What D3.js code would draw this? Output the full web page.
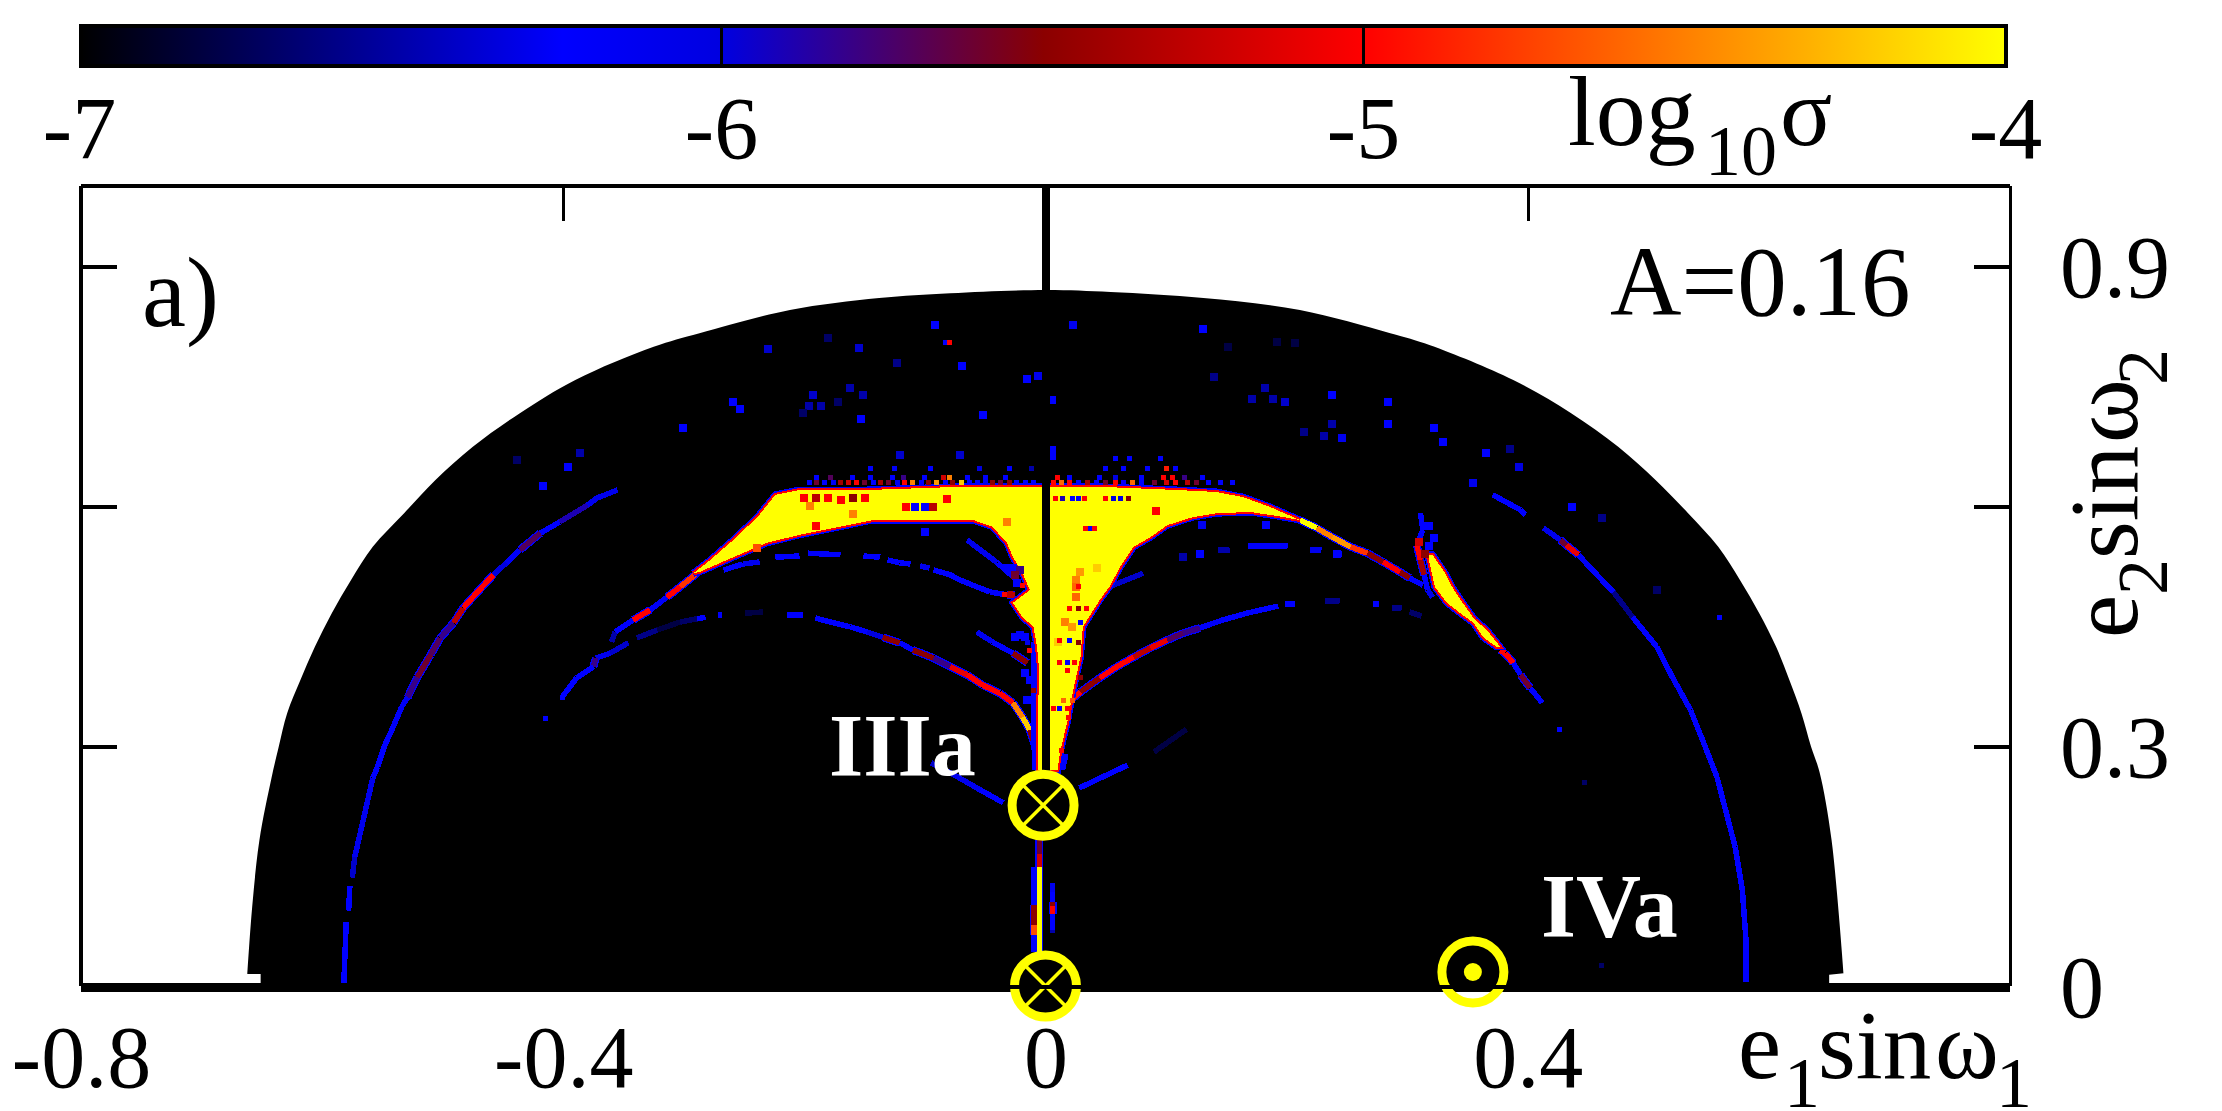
<!DOCTYPE html>
<html lang="en">

<head>
  <meta charset="utf-8">
  <title>log10 sigma map, A=0.16</title>
  <script src="https://cdn.jsdelivr.net/npm/d3@7"></script>
  <style>
    html, body { margin: 0; background: #fff; }
    svg { display: block; }
    text { font-family: "Liberation Serif", serif; fill: #000; }
    .axis path, .axis line { stroke: #000; shape-rendering: crispEdges; }
    .mark { shape-rendering: crispEdges; }
  </style>
</head>

<body>
  <div id="box"></div>
  <script>
    const width = 2222
    const height = 1111

    // colour bar
    const barTicks = [-7, -6, -5, -4]
    const barStops = [-7, -6.25, -6, -5.5, -5, -4]
    const barColors = ['#000000', '#0000ff', '#0000e0', '#8b0000', '#ff0000', '#ffff00']

    // axes
    const xTopTicks = [-0.4, 0, 0.4]
    const xLabels = [-0.8, -0.4, 0, 0.4]
    const yTicks = [0.3, 0.6, 0.9]
    const yLabels = [0, 0.3, 0.9]

    // outline of the mapped area (e1, e2)
    const heapE1 = [-0.651, -0.651, -0.662, -0.658, -0.652, -0.642, -0.636, -0.629, -0.618, -0.606, -0.592, -0.576, -0.558, -0.532, -0.506, -0.475, -0.436, -0.390, -0.325, -0.287, -0.212, -0.138, -0.079, 0, 0.054, 0.131, 0.211, 0.286, 0.319, 0.388, 0.436, 0.475, 0.506, 0.533, 0.558, 0.576, 0.592, 0.606, 0.617, 0.627, 0.635, 0.642, 0.652, 0.662, 0.650, 0.650]
    const heapE2 = [0, 0.015, 0.015, 0.099, 0.1825, 0.26, 0.299, 0.341, 0.3825, 0.424, 0.466, 0.5075, 0.549, 0.591, 0.6325, 0.674, 0.716, 0.7575, 0.799, 0.816, 0.845, 0.86, 0.866, 0.87, 0.8675, 0.86, 0.845, 0.816, 0.801, 0.7575, 0.716, 0.674, 0.6325, 0.591, 0.549, 0.5075, 0.466, 0.424, 0.3825, 0.341, 0.299, 0.2675, 0.1825, 0.016, 0.014, 0]

    // saturated regions
    const wingArea = [[-0.292, 0.516], [-0.278, 0.5325], [-0.259, 0.5575], [-0.239, 0.586], [-0.224, 0.614], [-0.204, 0.62], [-0.148, 0.62], [-0.071, 0.624], [0.045, 0.624], [0.109, 0.62], [0.142, 0.6175], [0.164, 0.611], [0.186, 0.599], [0.211, 0.5825], [0.192, 0.5875], [0.170, 0.5925], [0.142, 0.591], [0.122, 0.586], [0.101, 0.576], [0.087, 0.561], [0.073, 0.549], [0.062, 0.524], [0.053, 0.499], [0.045, 0.4825], [0.031, 0.449], [0.029, 0.411], [0.023, 0.37], [0.018, 0.329], [0.015, 0.311], [0.012, 0.291], [0.010, 0.27], [-0.006, 0.27], [-0.006, 0.3575], [-0.005, 0.391], [-0.007, 0.424], [-0.010, 0.449], [-0.019, 0.461], [-0.027, 0.479], [-0.013, 0.495], [-0.019, 0.516], [-0.027, 0.536], [-0.032, 0.554], [-0.044, 0.574], [-0.060, 0.5825], [-0.143, 0.5825], [-0.176, 0.5725], [-0.204, 0.564], [-0.231, 0.554], [-0.259, 0.536], [-0.287, 0.5175]]
    const streakArea = [[0.317, 0.539], [0.323, 0.499], [0.333, 0.479], [0.344, 0.466], [0.355, 0.454], [0.363, 0.436], [0.374, 0.424], [0.377, 0.424], [0.374, 0.43], [0.366, 0.445], [0.356, 0.458], [0.346, 0.479], [0.338, 0.497], [0.331, 0.517], [0.321, 0.539]]

    // ridges: e1, e2, log10 sigma (-7 leaves a gap)
    const outerLeft = [[-0.355, 0.62, -6.3], [-0.372, 0.61, -6.3], [-0.380, 0.601, -5.9], [-0.403, 0.58, -6.25], [-0.419, 0.566, -5.7], [-0.436, 0.545, -6.2], [-0.447, 0.529, -6.0], [-0.458, 0.514, -5.0], [-0.475, 0.486, -5.0], [-0.483, 0.4725, -5.3], [-0.491, 0.454, -5.8], [-0.502, 0.435, -5.7], [-0.510, 0.414, -5.6], [-0.521, 0.386, -5.8], [-0.529, 0.361, -6.2], [-0.534, 0.349, -6.2], [-0.541, 0.324, -6.25], [-0.548, 0.301, -6.25], [-0.554, 0.274, -6.25], [-0.558, 0.26, -6.3], [-0.564, 0.22, -6.3], [-0.571, 0.174, -6.3], [-0.573, 0.161, -6.4], [-0.575, 0.135, -7], [-0.577, 0.125, -6.25], [-0.578, 0.094, -7], [-0.580, 0.08, -6.25], [-0.582, 0.004, -6.25]]
    const outerRight = [[0.371, 0.614, -6.25], [0.394, 0.595, -6.25], [0.398, 0.589, -7], [0.413, 0.5725, -6.1], [0.427, 0.5575, -5.6], [0.432, 0.551, -5.1], [0.442, 0.539, -6.2], [0.452, 0.5225, -6.25], [0.471, 0.4925, -6.6], [0.487, 0.461, -6.25], [0.507, 0.424, -6.25], [0.520, 0.386, -6.2], [0.535, 0.345, -6.25], [0.545, 0.3075, -6.25], [0.557, 0.261, -6.25], [0.572, 0.174, -6.25], [0.578, 0.12, -6.25], [0.581, 0.0575, -6.25], [0.581, 0.005, -6.25]]
    const tailLeft = [[-0.289, 0.516, -4.8], [-0.303, 0.499, -5.0], [-0.314, 0.486, -6.2], [-0.328, 0.47, -5.0], [-0.342, 0.4575, -6.25], [-0.357, 0.4425, -6.5], [-0.36, 0.43, -7]]
    const tailLeftLow = [[-0.346, 0.429, -6.4], [-0.361, 0.416, -6.3], [-0.373, 0.41, -5.8], [-0.375, 0.399, -6.25], [-0.389, 0.385, -6.25], [-0.401, 0.361, -7]]
    const tailRight = [[0.211, 0.5825, -4], [0.225, 0.5725, -4.5], [0.238, 0.561, -4.4], [0.253, 0.549, -4.8], [0.267, 0.541, -5.5], [0.280, 0.53, -5.0], [0.294, 0.5175, -5.5], [0.302, 0.51, -6.25], [0.313, 0.501, -7]]
    const arcUpper = [[-0.267, 0.52, -6.25], [-0.251, 0.5275, -6.3], [-0.237, 0.53, -7], [-0.224, 0.536, -6.25], [-0.204, 0.5375, -7], [-0.197, 0.541, -6.2], [-0.170, 0.539, -7], [-0.151, 0.5375, -6.25], [-0.137, 0.536, -7], [-0.131, 0.5325, -6.25], [-0.121, 0.529, -6.25], [-0.112, 0.5275, -7], [-0.104, 0.525, -6.3], [-0.096, 0.5225, -7], [-0.093, 0.52, -6.25], [-0.079, 0.514, -6.25], [-0.071, 0.5075, -6.25], [-0.057, 0.499, -6.25], [-0.046, 0.4925, -6.25], [-0.032, 0.489, -5.3], [-0.025, 0.489, -5.3]]
    const arcLower = [[-0.339, 0.435, -6.6], [-0.322, 0.445, -6.8], [-0.303, 0.455, -6.7], [-0.289, 0.459, -6.25], [-0.282, 0.461, -7], [-0.272, 0.464, -6.25], [-0.268, 0.464, -7], [-0.249, 0.466, -6.8], [-0.234, 0.4675, -7], [-0.214, 0.464, -6.25], [-0.201, 0.464, -7], [-0.191, 0.46, -6.25], [-0.176, 0.454, -6.25], [-0.162, 0.449, -6.25], [-0.148, 0.4425, -6.0], [-0.135, 0.436, -5.5], [-0.121, 0.429, -6.25], [-0.110, 0.42, -5.5], [-0.093, 0.41, -5.8], [-0.079, 0.399, -5.1], [-0.065, 0.389, -5.0], [-0.052, 0.376, -5.0], [-0.038, 0.366, -5.0], [-0.027, 0.354, -4.5], [-0.019, 0.336, -4.2], [-0.013, 0.32, -5.5], [-0.009, 0.301, -5.5]]
    const arcInnerA = [[-0.057, 0.4425, -6.3], [-0.044, 0.43, -6.25], [-0.027, 0.416, -5.5], [-0.015, 0.404, -5.5]]
    const arcInnerB = [[-0.065, 0.5575, -6.3], [-0.040, 0.529, -6.25], [-0.024, 0.5075, -6.0]]
    const arcRight = [[0.017, 0.3525, -5.0], [0.029, 0.3675, -5.5], [0.045, 0.385, -5.0], [0.059, 0.399, -5.0], [0.073, 0.411, -5.3], [0.087, 0.4225, -5.1], [0.101, 0.4325, -5.7], [0.114, 0.441, -5.8], [0.128, 0.4475, -6.2], [0.147, 0.4575, -6.25], [0.167, 0.466, -6.25], [0.186, 0.4725, -6.25], [0.193, 0.475, -7], [0.199, 0.4775, -6.25], [0.207, 0.4775, -7], [0.232, 0.481, -6.6], [0.244, 0.481, -7], [0.272, 0.4775, -6.25], [0.277, 0.4775, -7], [0.287, 0.4725, -6.6], [0.296, 0.4725, -7], [0.302, 0.4675, -6.7], [0.312, 0.4625, -6.7]]
    const arcRightMid = [[0.053, 0.499, -6.4], [0.081, 0.516, -7], [0.143, 0.545, -6.5], [0.153, 0.545, -7], [0.168, 0.55, -6.2], [0.201, 0.55, -7], [0.219, 0.545, -6.1], [0.229, 0.545, -7], [0.239, 0.54, -6.25], [0.246, 0.54, -7]]
    const streakTail = [[0.377, 0.42, -5], [0.381, 0.416, -5], [0.388, 0.404, -6.25], [0.394, 0.389, -5.6], [0.402, 0.3725, -6.25], [0.412, 0.354, -6.25]]
    const streakHead = [[0.311, 0.591, -6.25], [0.313, 0.57, -6.25], [0.308, 0.551, -5.0], [0.311, 0.5325, -5.4], [0.314, 0.514, -6.25], [0.317, 0.495, -6.1], [0.321, 0.486, -6.1]]
    const stemLeft = [[-0.003, 0.6225, -6.25], [-0.040, 0.6225, -6.25]]
    const wingUnderA = [[-0.140, 0.5825, -6.25], [-0.06, 0.5825, -6.25]]
    const wingUnderB = [[0.145, 0.591, -6.25], [0.167, 0.591, -6.25]]
    const armLeft = [[-0.035, 0.229, -6.25], [-0.054, 0.245, -6.3], [-0.076, 0.264, -6.4], [-0.095, 0.279, -6.6]]
    const armRight = [[0.028, 0.2475, -6.25], [0.042, 0.2575, -6.25], [0.068, 0.276, -7], [0.09, 0.2925, -6.8], [0.117, 0.321, -6.8]]
    const flankLeft = [[-0.010, 0.43, -6.25], [-0.010, 0.35, -6.25], [-0.009, 0.27, -6.25]]
    const flankRight = [[0.017, 0.29, -6.25], [0.014, 0.27, -6.25]]
    const lowerStem = [[-0.005, 0.1825, -5.6], [-0.005, 0.165, -5.2], [-0.005, 0.149, -4], [-0.005, 0.0425, -5], [-0.005, 0.04, -5]]
    const lowerLeft = [[-0.0095, 0.149, -6.25], [-0.0095, 0.101, -5.5], [-0.0095, 0.076, -4.7], [-0.0095, 0.064, -6.25], [-0.0095, 0.0425, -6.25]]
    const lowerRight = [[0.006, 0.129, -6.3], [0.006, 0.118, -6.25], [0.006, 0.105, -5.5], [0.006, 0.1, -5], [0.006, 0.09, -6.25], [0.006, 0.07, -6.5], [0.006, 0.066, -6.5]]

    const ridges = [outerLeft, outerRight, tailLeft, tailLeftLow, tailRight, arcUpper, arcLower, arcInnerA, arcInnerB, arcRight, arcRightMid, streakTail, streakHead, stemLeft, wingUnderA, wingUnderB, armLeft, armRight, flankLeft, flankRight, lowerStem, lowerLeft, lowerRight]

    // isolated spots: e1, e2, log10 sigma
    const coarseCells = [[-0.259, 0.73, -6.25], [-0.253, 0.721, -6.25], [-0.193, 0.739, -6.4], [-0.162, 0.7475, -6.5], [-0.155, 0.7975, -6.4], [-0.092, 0.826, -6.25], [0.023, 0.826, -6.3], [0.131, 0.821, -6.25], [-0.015, 0.759, -6.25], [-0.006, 0.7625, -6.3], [-0.069, 0.775, -6.25], [0.005, 0.7325, -6.25], [0.005, 0.6625, -6.25], [0.005, 0.67, -6.25], [0.182, 0.7475, -6.5], [0.238, 0.739, -6.25], [0.284, 0.73, -6.25], [0.284, 0.7025, -6.25], [0.238, 0.7025, -6.5], [0.322, 0.6975, -6.25], [0.330, 0.68, -6.25], [0.189, 0.734, -6.5], [0.171, 0.734, -6.5], [0.199, 0.73, -6.4], [0.231, 0.6875, -6.5], [0.246, 0.685, -6.3], [0.214, 0.6925, -6.6], [-0.196, 0.725, -6.5], [-0.186, 0.725, -6.5], [-0.172, 0.73, -6.7], [-0.151, 0.739, -6.5], [-0.123, 0.779, -6.6], [-0.301, 0.6975, -6.25], [-0.153, 0.709, -6.25], [-0.052, 0.714, -6.25], [-0.121, 0.664, -6.4], [-0.071, 0.664, -6.4], [-0.230, 0.796, -6.4], [-0.180, 0.81, -6.7], [0.140, 0.761, -6.6], [0.151, 0.799, -6.8], [0.192, 0.805, -6.8], [0.207, 0.804, -6.8], [-0.201, 0.716, -6.7], [-0.396, 0.649, -6.25], [-0.417, 0.625, -6.25], [-0.386, 0.666, -6.5], [-0.438, 0.6575, -6.7], [0.393, 0.649, -6.0], [0.437, 0.599, -6.25], [0.462, 0.585, -6.6], [0.507, 0.495, -6.7], [0.385, 0.671, -6.6], [0.365, 0.666, -6.25], [0.355, 0.629, -6.3], [0.114, 0.536, -6.5], [0.128, 0.54, -6.25], [0.130, 0.576, -6.3], [0.183, 0.576, -6.25], [0.242, 0.54, -6.25], [-0.1, 0.5675, -6.25], [-0.116, 0.599, -5], [-0.108, 0.599, -6.25], [-0.100, 0.599, -6.25], [-0.093, 0.599, -5.3], [-0.082, 0.609, -5], [-0.160, 0.59, -4.5], [-0.19, 0.575, -5], [-0.2, 0.61, -5], [-0.19, 0.61, -5.3], [-0.18, 0.61, -5], [-0.17, 0.607, -5], [-0.16, 0.61, -5.5], [-0.15, 0.61, -5], [-0.195, 0.6, -4.5], [-0.239, 0.5475, -4.7], [0.092, 0.594, -5], [-0.032, 0.58, -4.5], [0.029, 0.5175, -4.4], [0.043, 0.5225, -4.2], [0.025, 0.5075, -4.5], [0.025, 0.499, -4.6], [0.025, 0.486, -4.6], [0.016, 0.455, -4.5], [0.022, 0.449, -4.4], [0.01, 0.43, -4.2], [-0.032, 0.5225, -6.25], [-0.027, 0.5225, -6.25], [-0.021, 0.52, -5.8], [-0.025, 0.514, -5.6], [-0.024, 0.504, -6.25], [-0.021, 0.439, -6.25], [-0.017, 0.436, -6.25], [-0.025, 0.436, -6.25], [-0.017, 0.391, -6.25], [-0.013, 0.3825, -6.25], [-0.015, 0.3575, -6.25], [0.310, 0.555, -5.2], [0.315, 0.54, -5.5], [0.318, 0.55, -6.25], [0.322, 0.56, -6.25], [0.318, 0.575, -6.25]]
    const fineCells = [[-0.083, 0.804, -6.25], [-0.080, 0.804, -5], [0.559, 0.461, -6.25], [0.426, 0.321, -6.25], [-0.401, 0.361, -6.25], [-0.415, 0.335, -6.25], [0.447, 0.254, -6.7], [0.461, 0.026, -6.7],
      [-0.196, 0.629, -6.25], [-0.19, 0.629, -5.6], [-0.183, 0.629, -6.25], [-0.176, 0.629, -6.2], [-0.170, 0.629, -5.4], [-0.163, 0.629, -5.2], [-0.157, 0.629, -5], [-0.150, 0.629, -5.6], [-0.143, 0.629, -6.25], [-0.137, 0.629, -5.4], [-0.130, 0.629, -5.6], [-0.123, 0.629, -6.3], [-0.117, 0.629, -5], [-0.11, 0.629, -4.5], [-0.103, 0.629, -6.25], [-0.097, 0.629, -5.5], [-0.09, 0.629, -4.4], [-0.083, 0.629, -6.25], [-0.077, 0.629, -5.5], [-0.07, 0.629, -4.2], [-0.063, 0.629, -6.25], [-0.056, 0.629, -6.25], [-0.05, 0.629, -6.3], [-0.044, 0.629, -5.5], [-0.037, 0.629, -5.6], [-0.03, 0.629, -5.5], [-0.024, 0.629, -6.25], [-0.017, 0.629, -6.25], [-0.01, 0.629, -6.25],
      [-0.19, 0.636, -6.25], [-0.178, 0.636, -5.7], [-0.16, 0.636, -6.25], [-0.145, 0.636, -6.2], [-0.127, 0.636, -6.25], [-0.118, 0.636, -5.8], [-0.1, 0.636, -6.25], [-0.085, 0.636, -5.2], [-0.08, 0.636, -4.5], [-0.065, 0.636, -6.25], [-0.05, 0.636, -6.2], [-0.033, 0.636, -6.25],
      [-0.145, 0.647, -6.25], [-0.125, 0.647, -6.2], [-0.095, 0.647, -6.25], [-0.055, 0.647, -6.0], [-0.03, 0.647, -6.25], [-0.012, 0.647, -6.5],
      [0.007, 0.629, -5], [0.013, 0.629, -4.6], [0.02, 0.629, -5], [0.027, 0.629, -6.25], [0.035, 0.629, -5.4], [0.042, 0.629, -6.25], [0.05, 0.629, -5.6], [0.058, 0.629, -5], [0.065, 0.629, -6.25], [0.072, 0.629, -4.6], [0.08, 0.629, -6.25], [0.09, 0.629, -5.6], [0.1, 0.629, -5.2], [0.108, 0.629, -5], [0.118, 0.629, -5.3], [0.125, 0.629, -5.6], [0.135, 0.629, -6.25], [0.145, 0.629, -6.25], [0.155, 0.629, -6.25],
      [0.01, 0.636, -5], [0.02, 0.636, -6.25], [0.045, 0.636, -6.25], [0.058, 0.636, -6.0], [0.08, 0.636, -6.25], [0.098, 0.636, -5.0], [0.105, 0.636, -5.0], [0.115, 0.636, -5.8], [0.13, 0.636, -6.25],
      [0.05, 0.647, -6.25], [0.065, 0.647, -6.25], [0.085, 0.647, -6.25], [0.1, 0.647, -4.9], [0.108, 0.647, -6.25], [0.058, 0.66, -6.25], [0.07, 0.66, -6.25], [0.095, 0.66, -6.25],
      [0.008, 0.609, -5], [0.0145, 0.609, -5.9], [0.022, 0.609, -6.25], [0.027, 0.609, -6.25], [0.032, 0.609, -5], [0.05, 0.609, -5], [0.056, 0.609, -6], [0.062, 0.609, -6], [0.069, 0.609, -5.5],
      [0.033, 0.5725, -5], [0.037, 0.5725, -6.25], [0.041, 0.5725, -5], [0.027, 0.499, -5], [0.02, 0.4725, -5], [0.027, 0.4725, -5.5], [0.034, 0.4725, -5], [0.029, 0.455, -6.2], [0.02, 0.4325, -6.2], [0.012, 0.4325, -5], [0.027, 0.429, -5.5], [0.018, 0.404, -6.25], [0.012, 0.404, -5], [0.024, 0.404, -5], [0.018, 0.395, -5], [0.029, 0.386, -5.5], [0.012, 0.3475, -6.25], [0.007, 0.3475, -5], [0.018, 0.3475, -5], [0.015, 0.3575, -4.6], [0.022, 0.3575, -4.7], [0.019, 0.336, -5], [0.013, 0.295, -5],
      [-0.019, 0.501, -5], [-0.034, 0.489, -5], [-0.029, 0.491, -5.3], [-0.015, 0.429, -6.1], [-0.013, 0.42, -5], [-0.010, 0.37, -5.5]]

    // markers on the map
    const crossE1 = [-0.002, 0]
    const crossE2 = [0.226, 0]
    const dotE1 = [0.3545]
    const dotE2 = [0.0175]

    // scales
    const xScale = d3.scaleLinear().domain([-0.8, 0.8]).range([81, 2010])
    const yScale = d3.scaleLinear().domain([0, 1]).range([986, 186])
    const barScale = d3.scaleLinear().domain([-7, -4]).range([79, 2005])
    const colorScale = d3.scaleLinear().domain(barStops).range(barColors).clamp(true)

    const svg = d3.select('#box').append('svg')
      .attr('width', width)
      .attr('height', height)
      .attr('viewBox', `0 0 ${width} ${height}`)

    // colour bar, gradient stops taken from the colour scale
    const gradient = svg.append('defs').append('linearGradient')
      .attr('id', 'barFill')
    gradient.selectAll('stop')
      .data(barStops)
      .enter()
      .append('stop')
      .attr('offset', d => (d + 7) / 3)
      .attr('stop-color', d => colorScale(d))

    svg.append('rect')
      .attr('class', 'mark')
      .attr('x', barScale(-7) + 2)
      .attr('y', 26)
      .attr('width', barScale(-4) - barScale(-7) - 1)
      .attr('height', 40)
      .attr('fill', 'url(#barFill)')
      .attr('stroke', '#000')
      .attr('stroke-width', 4)

    const barAxis = svg.append('g')
      .attr('class', 'axis')
      .attr('transform', 'translate(0,64)')
      .call(d3.axisTop(barScale).tickValues([-6, -5]).tickSize(36).tickFormat(''))
    barAxis.select('.domain').remove()
    barAxis.selectAll('line').attr('stroke-width', 3)

    const barLabels = svg.append('g')
      .attr('class', 'axis')
      .attr('transform', 'translate(0,0)')
      .call(d3.axisBottom(barScale).tickValues(barTicks).tickSize(0).tickFormat(d => String(d)))
    barLabels.select('.domain').remove()
    barLabels.selectAll('text')
      .attr('y', 158).attr('dy', 0)
      .attr('font-size', 88)
      .attr('font-family', '"Liberation Serif", serif')

    // the map itself
    const outline = d3.line()
      .x(d => xScale(d[0]))
      .y(d => yScale(d[1]))
    const heapPoints = d3.zip(heapE1, heapE2)
    const heapArc = d3.line()
      .x(d => xScale(d[0]))
      .y(d => yScale(d[1]))
      .curve(d3.curveCatmullRom)
    const footEnd = heapPoints.length - 3

    // straight notches at both feet, smooth arc between them
    svg.append('path')
      .attr('d', outline(heapPoints.slice(0, 3)) +
        heapArc(heapPoints.slice(2, footEnd + 1)).replace('M', 'L') +
        outline(heapPoints.slice(footEnd)).replace('M', 'L') + 'Z')
      .attr('fill', '#000')

    // wide black edge along e2 = 0
    svg.append('line')
      .attr('class', 'mark')
      .attr('x1', xScale(-0.8)).attr('x2', xScale(0.8))
      .attr('y1', yScale(-0.002)).attr('y2', yScale(-0.002))
      .attr('stroke', '#000')
      .attr('stroke-width', 9)

    // one segment per pair of ridge points, coloured by its first point
    const segments = ridges.flatMap(r => d3.pairs(r))
    const marks = svg.append('g').attr('class', 'mark')

    marks.selectAll('.halo')
      .data(segments.filter(s => s[0][2] > -5.9))
      .enter()
      .append('path')
      .attr('class', 'halo')
      .attr('d', s => outline(s))
      .attr('fill', 'none')
      .attr('stroke', '#0000ff')
      .attr('stroke-width', 8)

    marks.selectAll('.core')
      .data(segments)
      .enter()
      .append('path')
      .attr('class', 'core')
      .attr('d', s => outline(s))
      .attr('fill', 'none')
      .attr('stroke', s => colorScale(s[0][2]))
      .attr('stroke-width', 5.5)

    const areas = [wingArea, streakArea]
    const edgeWidths = [[7, '#0000ff'], [4, '#ff0000']]
    edgeWidths.forEach(e => {
      marks.selectAll(null)
        .data(areas)
        .enter()
        .append('path')
        .attr('d', a => outline(a) + 'Z')
        .attr('fill', 'none')
        .attr('stroke', e[1])
        .attr('stroke-width', e[0])
    })
    marks.selectAll(null)
      .data(areas)
      .enter()
      .append('path')
      .attr('d', a => outline(a) + 'Z')
      .attr('fill', colorScale(-4))

    // isolated cells
    const drawCells = (cells, size) => {
      marks.selectAll(null)
        .data(cells)
        .enter()
        .append('rect')
        .attr('x', d => xScale(d[0]) - size / 2)
        .attr('y', d => yScale(d[1]) - size / 2)
        .attr('width', size)
        .attr('height', size)
        .attr('fill', d => colorScale(d[2]))
    }
    drawCells(coarseCells, 8)
    drawCells(fineCells, 5)

    // heavy line at e1 = 0
    svg.append('line')
      .attr('class', 'mark')
      .attr('x1', xScale(0)).attr('x2', xScale(0))
      .attr('y1', yScale(1)).attr('y2', yScale(0.226))
      .attr('stroke', '#000')
      .attr('stroke-width', 8)

    // frame and ticks
    const frame = [
      [[-0.8, 0], [-0.8, 1], 3.5],
      [[-0.8, 1], [0.8, 1], 4],
      [[0.8, 1], [0.8, 0], 3]
    ]
    svg.selectAll('.frame')
      .data(frame)
      .enter()
      .append('path')
      .attr('class', 'frame mark')
      .attr('d', f => outline(f.slice(0, 2)))
      .attr('stroke', '#000')
      .attr('stroke-width', f => f[2])

    const topAxis = svg.append('g')
      .attr('class', 'axis')
      .attr('transform', `translate(0,${yScale(1)})`)
      .call(d3.axisTop(xScale).tickValues(xTopTicks).tickSize(-35).tickFormat(''))
    topAxis.select('.domain').remove()
    topAxis.selectAll('line').attr('stroke-width', 3)

    const leftAxis = svg.append('g')
      .attr('class', 'axis')
      .attr('transform', `translate(${xScale(-0.8)},0)`)
      .call(d3.axisLeft(yScale).tickValues(yTicks).tickSize(-36).tickFormat(''))
    leftAxis.select('.domain').remove()
    leftAxis.selectAll('line').attr('stroke-width', 4)

    const rightAxis = svg.append('g')
      .attr('class', 'axis')
      .attr('transform', `translate(${xScale(0.8)},0)`)
      .call(d3.axisRight(yScale).tickValues(yTicks).tickSize(-36).tickFormat(''))
    rightAxis.select('.domain').remove()
    rightAxis.selectAll('line').attr('stroke-width', 4)

    const xLabelAxis = svg.append('g')
      .attr('class', 'axis')
      .attr('transform', 'translate(0,0)')
      .call(d3.axisBottom(xScale).tickValues(xLabels).tickSize(0).tickFormat(d => String(d)))
    xLabelAxis.select('.domain').remove()
    xLabelAxis.selectAll('text')
      .attr('y', 1087).attr('dy', 0)
      .attr('font-size', 88)
      .attr('font-family', '"Liberation Serif", serif')

    const yLabelAxis = svg.append('g')
      .attr('class', 'axis')
      .attr('transform', 'translate(2060,0)')
      .call(d3.axisRight(yScale).tickValues(yLabels).tickSize(0).tickPadding(0).tickFormat(d => String(d)))
    yLabelAxis.select('.domain').remove()
    yLabelAxis.selectAll('text')
      .attr('x', 0).attr('dy', 30)
      .attr('font-size', 88)
      .attr('font-family', '"Liberation Serif", serif')

    // circle markers
    const yellow = '#ffff00'
    const crossGroup = svg.selectAll('.crossMark')
      .data(d3.zip(crossE1, crossE2))
      .enter()
      .append('g')
      .attr('class', 'crossMark')
      .attr('transform', d => `translate(${xScale(d[0])},${yScale(d[1])})`)
    crossGroup.append('circle')
      .attr('r', 31)
      .attr('fill', '#000')
      .attr('stroke', yellow)
      .attr('stroke-width', 9)
    crossGroup.selectAll('line')
      .data([[-21, -21, 21, 21], [-21, 21, 21, -21]])
      .enter()
      .append('line')
      .attr('x1', d => d[0]).attr('y1', d => d[1])
      .attr('x2', d => d[2]).attr('y2', d => d[3])
      .attr('stroke', yellow)
      .attr('stroke-width', 3.5)

    const dotGroup = svg.selectAll('.dotMark')
      .data(d3.zip(dotE1, dotE2))
      .enter()
      .append('g')
      .attr('class', 'dotMark')
      .attr('transform', d => `translate(${xScale(d[0])},${yScale(d[1])})`)
    dotGroup.append('circle')
      .attr('r', 31)
      .attr('fill', 'none')
      .attr('stroke', yellow)
      .attr('stroke-width', 9)
    dotGroup.append('circle')
      .attr('r', 9)
      .attr('fill', yellow)

    // axis line at e2 = 0 runs over the markers
    svg.append('line')
      .attr('class', 'mark')
      .attr('x1', xScale(-0.8)).attr('x2', xScale(0.8))
      .attr('y1', yScale(-0.001)).attr('y2', yScale(-0.001))
      .attr('stroke', '#000')
      .attr('stroke-width', 4)

    // text labels
    const addText = (x, y, parts, opts) => {
      const t = svg.append('text')
        .attr('transform', opts && opts.rotate ? `translate(${x},${y}) rotate(-90)` : `translate(${x},${y})`)
        .style('fill', opts && opts.fill ? opts.fill : '#000')
        .style('font-weight', opts && opts.bold ? 'bold' : 'normal')
      parts.forEach(p => {
        t.append('tspan')
          .attr('x', p[1])
          .attr('y', p[2])
          .attr('font-size', p[3])
          .text(p[0])
      })
    }

    addText(1568, 145, [['log', 0, 0, 100], ['10', 137, 30, 72], ['σ', 212, 0, 97]])
    addText(142, 326, [['a)', 0, 0, 99]])
    addText(1610, 315, [['A=0.16', 0, 0, 99]])
    addText(829, 775, [['IIIa', 0, 0, 88]], { fill: '#fff', bold: true })
    addText(1541, 937, [['IVa', 0, 0, 90]], { fill: '#fff', bold: true })
    addText(1738, 1078, [['e', 0, 0, 97], ['1', 46, 29, 72], ['sin', 80, 0, 97], ['ω', 197, 0, 97], ['1', 258, 29, 72]])
    addText(2137, 638, [['e', 0, 0, 97], ['2', 43, 30, 72], ['sin', 79, 0, 97], ['ω', 195, 0, 97], ['2', 253, 30, 72]], { rotate: true })
  </script>
</body>

</html>
